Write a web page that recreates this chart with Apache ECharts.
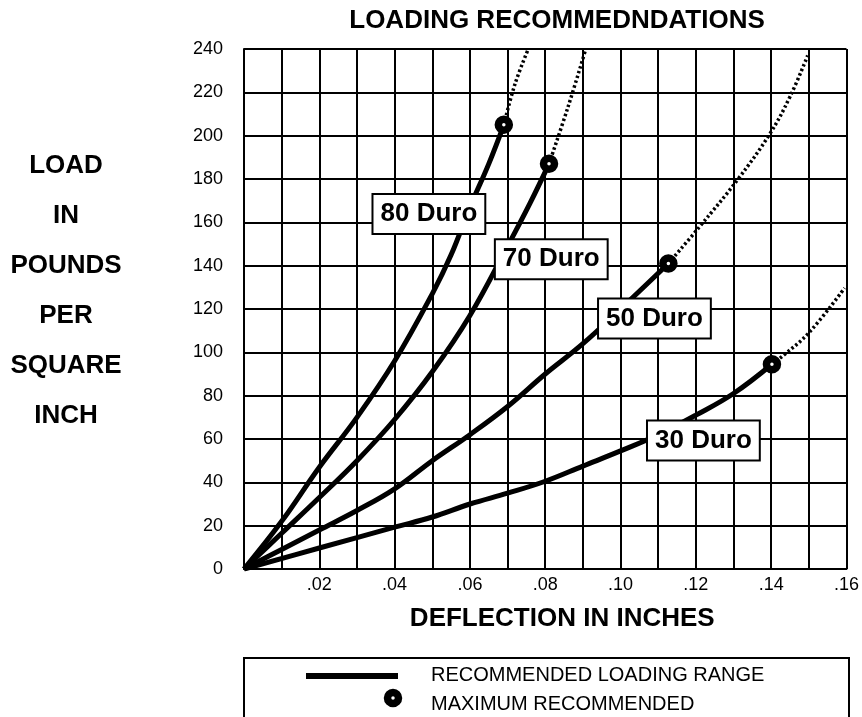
<!DOCTYPE html>
<html><head><meta charset="utf-8">
<script src="https://cdn.jsdelivr.net/npm/echarts@6/dist/echarts.min.js"></script>
<style>html,body{margin:0;padding:0;background:#fff}#c{width:862px;height:717px}</style>
</head><body><div id="c"></div>
<script>
// Solid (recommended loading range) curves: [deflection, load]
const duro80 = [[0,0],[0.01,22],[0.02,47],[0.03,70],[0.04,96],[0.05,127],[0.055,145],[0.06,167],[0.065,187],[0.069,205]];
const duro70 = [[0,0],[0.01,16.5],[0.02,33],[0.03,50],[0.04,69],[0.05,91],[0.06,117],[0.07,149],[0.076,169],[0.081,187]];
const duro50 = [[0,0],[0.01,9],[0.02,18],[0.03,27],[0.04,37],[0.05,50],[0.06,62],[0.07,75],[0.08,90],[0.09,104],[0.1,120],[0.1127,141]];
const duro30 = [[0,0],[0.02,9.7],[0.04,19.3],[0.05,24],[0.06,30],[0.07,35],[0.08,40.5],[0.09,47.5],[0.1,54.5],[0.11,62],[0.12,71],[0.13,81],[0.1402,94.5]];
// Dotted extensions beyond maximum recommended
const ext80 = [[0.069,205],[0.072,224],[0.0755,240]];
const ext70 = [[0.081,187],[0.086,213],[0.0906,239]];
const ext50 = [[0.1127,141],[0.121,158],[0.131,179.5],[0.1397,201],[0.145,218],[0.1497,237]];
const ext30 = [[0.1402,94.5],[0.1434,98.8],[0.150,109],[0.1595,129.7]];
// Maximum recommended points
const maxPoints = [[0.069,205],[0.081,187],[0.1127,141],[0.1402,94.5]];
// Curve labels
const labelNames = ['80 Duro','70 Duro','50 Duro','30 Duro'];
const labelPos = [[0.0491,163.8],[0.0816,143],[0.109,115.6],[0.122,59.3]];
const yTitleLines = ['LOAD','IN','POUNDS','PER','SQUARE','INCH'];

const FONT = 'Liberation Sans, Arial, sans-serif';
const chart = echarts.init(document.getElementById('c'), null, {renderer:'canvas'});

const solid = d => ({type:'line', data:d, smooth:0.4, symbol:'none', lineStyle:{color:'#000', width:5}, z:3, silent:true});
const dotted = d => ({type:'line', data:d, smooth:0.4, symbol:'none', lineStyle:{color:'#000', width:3.5, type:[2.5,2.5]}, z:2, silent:true});

chart.setOption({
  animation:false,
  backgroundColor:'#fff',
  textStyle:{fontFamily:FONT},
  title:{text:'LOADING RECOMMEDNDATIONS', left:552, top:3, textAlign:'center',
    textStyle:{fontFamily:FONT, fontSize:26, fontWeight:'bold', color:'#000'}},
  grid:{left:244, top:49, right:12, bottom:148, containLabel:false},
  xAxis:{type:'value', min:0, max:0.16, interval:0.01,
    name:'DEFLECTION IN INCHES', nameLocation:'middle', nameGap:37,
    nameTextStyle:{fontFamily:FONT, fontSize:26, fontWeight:'bold', color:'#000', padding:[0,0,0,34]},
    axisLine:{lineStyle:{color:'#000', width:2}}, axisTick:{show:false},
    splitLine:{show:true, lineStyle:{color:'#000', width:2}},
    axisLabel:{color:'#000', fontSize:18, fontFamily:FONT, margin:7, showMaxLabel:true,
      formatter:v=>{const n=Math.round(v*100); if(n===0||n%2) return ''; return '.'+(n<10?'0'+n:n);}}},
  yAxis:{type:'value', min:0, max:240, interval:20,
    axisLine:{lineStyle:{color:'#000', width:2}}, axisTick:{show:false},
    splitLine:{show:true, lineStyle:{color:'#000', width:2}},
    axisLabel:{color:'#000', fontSize:18, fontFamily:FONT, margin:21, padding:[0,0,10,0]}},
  series:[
    solid(duro80), solid(duro70), solid(duro50), solid(duro30),
    dotted(ext80), dotted(ext70), dotted(ext50), dotted(ext30),
    {type:'scatter', data:maxPoints, symbol:'circle', symbolSize:11, z:5,
      itemStyle:{color:'#fff', borderColor:'#000', borderWidth:7.5, opacity:1}, silent:true},
    {type:'scatter', data:labelPos.map((p,i)=>({value:p, name:labelNames[i]})), symbolSize:0, z:6, silent:true,
      itemStyle:{opacity:1},
      label:{show:true, position:'inside', formatter:p=>p.name, color:'#000', fontFamily:FONT, opacity:1,
        fontSize:26, fontWeight:'bold', backgroundColor:'#fff', borderColor:'#000', borderWidth:2,
        padding:[6,7,6,7]}}
  ],
  graphic:[
    ...yTitleLines.map((t,i)=>({type:'text', x:66, y:166+i*50, z:10,
      style:{text:t, fill:'#000', font:'bold 26px '+FONT, textAlign:'center', textVerticalAlign:'middle'}})),
    {type:'rect', shape:{x:244, y:658, width:605, height:80}, style:{fill:'#fff', stroke:'#000', lineWidth:2}, z:10},
    {type:'rect', shape:{x:306, y:673, width:92, height:6}, style:{fill:'#000'}, z:11},
    {type:'circle', shape:{cx:393, cy:698, r:5.5}, style:{fill:'#fff', stroke:'#000', lineWidth:7.5}, z:11},
    {type:'text', x:431, y:675, z:11, style:{text:'RECOMMENDED LOADING RANGE', fill:'#000', font:'20px '+FONT, textVerticalAlign:'middle'}},
    {type:'text', x:431, y:704, z:11, style:{text:'MAXIMUM RECOMMENDED', fill:'#000', font:'20px '+FONT, textVerticalAlign:'middle'}}
  ]
});
</script></body></html>
